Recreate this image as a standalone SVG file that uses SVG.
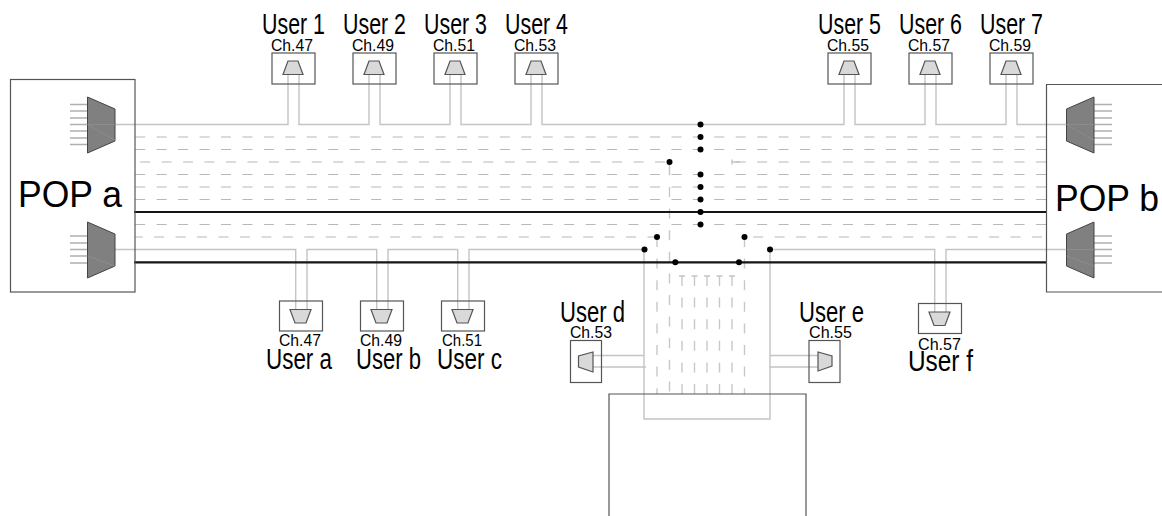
<svg xmlns="http://www.w3.org/2000/svg" width="1162" height="516" viewBox="0 0 1162 516">
<style>
text{font-family:"Liberation Sans",Arial,sans-serif;fill:#000}
.u{font-size:29px}.c{font-size:16px}.p{font-size:36px}
.box{fill:none;stroke:#555;stroke-width:1.2}
.big{fill:#808080;stroke:#444;stroke-width:1}
.fa{fill:none;stroke:#8c8c8c;stroke-width:1}
.m{fill:#d9d9d9;stroke:#555;stroke-width:1.2}
.l{fill:none;stroke:#c4c4c4;stroke-width:1.4}
.in{fill:none;stroke:#b0b0b0;stroke-width:1.3}
.d{fill:none;stroke:#b8b8b8;stroke-width:1.2;stroke-dasharray:10 11.45}
.dv{fill:none;stroke:#c8c8c8;stroke-width:1.4;stroke-dasharray:10 11.6}
.t{fill:none;stroke:#151515;stroke-width:2.2}
.dot{fill:#000}
</style>
<g id="connectors">
<path class="d" d="M135.2 137H700M135.2 149.5H700M135.2 174.5H700M135.2 187H700M135.2 199.5H700M135.2 224.5H700"/>
<path class="d" stroke-dashoffset="16.5" d="M135.200 162H669.500"/>
<path class="d" stroke-dashoffset="2.500" d="M135.200 237H657"/>
<path class="d" d="M1046 137H700M1046 149.5H700M1046 162H732M1046 174.5H700M1046 187H700M1046 199.5H700M1046 224.5H700M1042 237H744.5" />
<path class="l" d="M732 159.5V164.500M732 162H740"/>
<path class="dv" d="M657 237V394M669.500 187V394M744.500 237V394M682 276V394M694.500 276V394M707 276V394M719.500 276V394M732 276V394"/>
<path class="l" d="M669.500 162V175.300"/>
<path class="l" d="M679 276H685M691.500 276H697.500M704 276H710M716.500 276H722.500M729 276H735"/>
<path class="l" d="M115 124.500H288V75M299 75V124.500H369V75M380 75V124.500H450V75M461 75V124.500H531V75M542 75V124.500H844V75M855 75V124.500H925V75M936 75V124.500H1006V75M1017 75V124.500H1066"/>
<path class="l" d="M115 249.500H295.700V310M307 310V249.500H376.700V310M388 310V249.500H457.700V310M469 310V249.500H644V419H770V249.500H934.700V313M946 313V249.500H1066"/>
<path class="l" d="M593 355.500H644M593 367H646M770 355.500H818M769 367H818"/>
<path class="t" d="M134 212H1047M134 262.300H1047"/>
<g class="dot">
<circle cx="700.500" cy="124.500" r="3"/><circle cx="700.500" cy="137" r="3"/><circle cx="700.500" cy="149.500" r="3"/><circle cx="700.500" cy="174.500" r="3"/><circle cx="700.500" cy="187" r="3"/><circle cx="700.500" cy="199.500" r="3"/><circle cx="700.500" cy="212" r="3"/><circle cx="700.500" cy="224.500" r="3"/>
<circle cx="669.500" cy="162" r="3"/><circle cx="657" cy="237" r="3"/><circle cx="744.500" cy="237" r="3"/><circle cx="644.500" cy="249.500" r="3"/><circle cx="770" cy="249.500" r="3"/><circle cx="675.300" cy="262.300" r="3"/><circle cx="739" cy="262.300" r="3"/>
</g>
</g>
<g id="pop-a">
<rect class="box" x="10.500" y="79.500" width="124.500" height="212.500"/>
<path class="in" d="M70 104.500H87M70 111H87M70 118H87M70 124.500H87M70 131H87M70 138H87M70 144.500H87M70 236H87M70 243H87M70 249.500H87M70 256H87M70 263H87"/>
<path class="big" d="M87.500 97L115 109V141L87.500 153Z"/>
<path class="big" d="M87.500 222L115 234V266L87.500 278Z"/>
<path class="fa" d="M87.500 124.500H115M87.500 124.500L115 140M87.500 256L115 266"/>
<text class="p" x="18" y="206.500" textLength="104" lengthAdjust="spacingAndGlyphs">POP a</text>
</g>
<g id="pop-b">
<path class="box" d="M1163 84.500H1046.500V292H1163"/>
<path class="in" d="M1094 104.500H1112M1094 111H1112M1094 118H1112M1094 124.500H1112M1094 131H1112M1094 138H1112M1094 144.500H1112M1094 236H1112M1094 243H1112M1094 249.500H1112M1094 256H1112M1094 263H1112"/>
<path class="big" d="M1094 97L1066.500 109V141L1094 153Z"/>
<path class="big" d="M1094 222L1066.500 234V266L1094 278Z"/>
<path class="fa" d="M1066.500 124.500H1094M1066.500 124.500L1094 140M1066.500 249.500H1094M1066.500 256L1094 266"/>
<text class="p" x="1055" y="210.500" textLength="104" lengthAdjust="spacingAndGlyphs">POP b</text>
</g>
<defs>
<g id="upbox"><rect class="box" x="0" y="0.500" width="43" height="31"/><path class="m" d="M16 8.500H26L31 22H11Z"/></g>
<g id="downbox"><rect class="box" x="0.500" y="0.500" width="43" height="30"/><path class="m" d="M11 9H32L27 22.500H16Z"/></g>
</defs>
<g id="user-1"><use href="#upbox" x="272" y="52.500"/><text class="u" x="262" y="34" textLength="63" lengthAdjust="spacingAndGlyphs">User 1</text><text class="c" x="271" y="51" textLength="42" lengthAdjust="spacingAndGlyphs">Ch.47</text></g>
<g id="user-2"><use href="#upbox" x="353" y="52.500"/><text class="u" x="343" y="34" textLength="63" lengthAdjust="spacingAndGlyphs">User 2</text><text class="c" x="352" y="51" textLength="42" lengthAdjust="spacingAndGlyphs">Ch.49</text></g>
<g id="user-3"><use href="#upbox" x="434" y="52.500"/><text class="u" x="424" y="34" textLength="63" lengthAdjust="spacingAndGlyphs">User 3</text><text class="c" x="433" y="51" textLength="42" lengthAdjust="spacingAndGlyphs">Ch.51</text></g>
<g id="user-4"><use href="#upbox" x="515" y="52.500"/><text class="u" x="505" y="34" textLength="63" lengthAdjust="spacingAndGlyphs">User 4</text><text class="c" x="514" y="51" textLength="42" lengthAdjust="spacingAndGlyphs">Ch.53</text></g>
<g id="user-5"><use href="#upbox" x="828" y="52.500"/><text class="u" x="818" y="34" textLength="63" lengthAdjust="spacingAndGlyphs">User 5</text><text class="c" x="827" y="51" textLength="42" lengthAdjust="spacingAndGlyphs">Ch.55</text></g>
<g id="user-6"><use href="#upbox" x="909" y="52.500"/><text class="u" x="899" y="34" textLength="63" lengthAdjust="spacingAndGlyphs">User 6</text><text class="c" x="908" y="51" textLength="42" lengthAdjust="spacingAndGlyphs">Ch.57</text></g>
<g id="user-7"><use href="#upbox" x="990" y="52.500"/><text class="u" x="980" y="34" textLength="63" lengthAdjust="spacingAndGlyphs">User 7</text><text class="c" x="989" y="51" textLength="42" lengthAdjust="spacingAndGlyphs">Ch.59</text></g>
<g id="user-a"><use href="#downbox" x="279" y="300.500"/><text class="c" x="279" y="346" textLength="42" lengthAdjust="spacingAndGlyphs">Ch.47</text><text class="u" x="266" y="369" textLength="66" lengthAdjust="spacingAndGlyphs">User a</text></g>
<g id="user-b"><use href="#downbox" x="360" y="300.500"/><text class="c" x="360" y="346" textLength="42" lengthAdjust="spacingAndGlyphs">Ch.49</text><text class="u" x="356" y="369" textLength="65" lengthAdjust="spacingAndGlyphs">User b</text></g>
<g id="user-c"><use href="#downbox" x="441" y="300.500"/><text class="c" x="442" y="346" textLength="40" lengthAdjust="spacingAndGlyphs">Ch.51</text><text class="u" x="437" y="369" textLength="65" lengthAdjust="spacingAndGlyphs">User c</text></g>
<g id="user-d"><rect class="box" x="570.500" y="340.500" width="31" height="42"/><path class="m" d="M593 352V372L578.500 367V356Z"/><text class="u" x="560" y="322" textLength="65" lengthAdjust="spacingAndGlyphs">User d</text><text class="c" x="570" y="338" textLength="42" lengthAdjust="spacingAndGlyphs">Ch.53</text></g>
<g id="user-e"><rect class="box" x="809" y="340.500" width="31" height="42"/><path class="m" d="M818 352V371L832 366V356Z"/><text class="u" x="799" y="322" textLength="65" lengthAdjust="spacingAndGlyphs">User e</text><text class="c" x="809" y="338" textLength="43" lengthAdjust="spacingAndGlyphs">Ch.55</text></g>
<g id="user-f"><use href="#downbox" x="918" y="303"/><text class="c" x="918" y="350" textLength="43" lengthAdjust="spacingAndGlyphs">Ch.57</text><text class="u" x="908" y="371" textLength="65" lengthAdjust="spacingAndGlyphs">User f</text></g>
<g id="bottom-node"><path class="box" d="M609 516V394H806V516"/></g>
</svg>
